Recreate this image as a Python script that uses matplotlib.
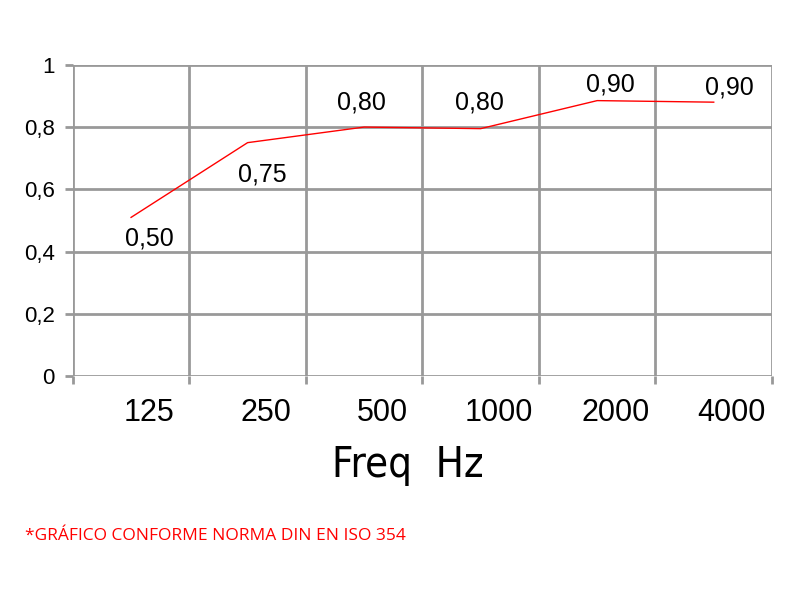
import numpy as np
import matplotlib.pyplot as plt
from matplotlib.transforms import ScaledTranslation

freqs = ['125', '250', '500', '1000', '2000', '4000']
alpha = [0.51, 0.75, 0.80, 0.795, 0.885, 0.88]
alpha_labels = ['0,50', '0,75', '0,80', '0,80', '0,90', '0,90']
yticks = [0, 0.2, 0.4, 0.6, 0.8, 1.0]
ytick_labels = ['0', '0,2', '0,4', '0,6', '0,8', '1']

fig = plt.figure(figsize=(8, 6), dpi=100)
ax = fig.add_axes([0.091, 0.373, 0.874, 0.519])

x = np.arange(len(freqs)) + 0.5
ax.plot(x, alpha, color='#ff0000', lw=1.0, zorder=3)

# labels below the line for the first two points, above for the rest
offsets = [(18, -21), (15, -32), (-3, 25), (-1, 26), (13, 16), (16, 15)]
for xi, yi, lab, (dx, dy) in zip(x, alpha, alpha_labels, offsets):
    ax.annotate(lab, (xi, yi), xytext=(dx, dy), textcoords='offset pixels',
                ha='center', va='center', fontsize=18, family='Liberation Sans')

ax.set_xlim(0, len(freqs))
ax.set_ylim(0, 1)
ax.set_xticks(np.arange(len(freqs) + 1))
ax.set_xticklabels([])

# category labels sit a little right of each band centre
shift = ScaledTranslation(0.18, -0.37, fig.dpi_scale_trans)
for xi, f in zip(x, freqs):
    ax.text(xi, 0, f, transform=ax.get_xaxis_transform() + shift,
            ha='center', va='center', fontsize=22, family='Liberation Sans')

ax.set_yticks(yticks)
ax.set_yticklabels(ytick_labels, fontsize=16, family='Liberation Sans')
ax.tick_params(axis='both', which='major', length=6, width=2, color='#999999')
ax.tick_params(axis='y', pad=7)

ax.grid(True, which='major', color='#999999', lw=2)
for s in ax.spines.values():
    s.set_visible(False)
ax.set_axisbelow(True)

fig.text(0.51, 0.225, 'Freq  Hz', ha='center', va='center', fontsize=30,
         family='DejaVu Sans', fontstretch='condensed')
fig.text(0.031, 0.106, '*GRÁFICO CONFORME NORMA DIN EN ISO 354', ha='left',
         va='center', fontsize=12.5, color='#ff0000', family='Open Sans')

fig.savefig('out.png', dpi=100)
